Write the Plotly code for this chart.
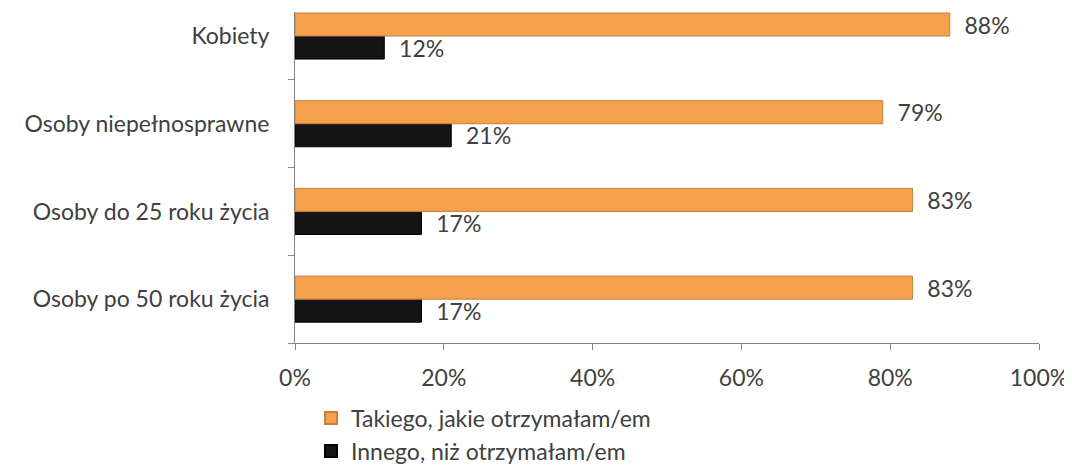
import plotly.graph_objects as go

categories = ["Osoby po 50 roku życia", "Osoby do 25 roku życia", "Osoby niepełnosprawne", "Kobiety"]
takiego = [83, 83, 79, 88]
innego = [17, 17, 21, 12]
series_names = ["Takiego, jakie otrzymałam/em", "Innego, niż otrzymałam/em"]
x_ticks = [0, 20, 40, 60, 80, 100]
x_tick_labels = ["0%", "20%", "40%", "60%", "80%", "100%"]

FONT = "Lato"
FS = 23
TXT = "#404040"

fig = go.Figure()
fig.add_trace(go.Bar(
    y=categories, x=innego, orientation="h", name=series_names[1],
    marker=dict(color="#141414", line=dict(color="#000000", width=1)),
    text=[f"  {v}%" for v in innego], textposition="outside", constraintext="none",
    textfont=dict(family=FONT, size=FS, color=TXT), cliponaxis=False,
    legendrank=2,
))
fig.add_trace(go.Bar(
    y=categories, x=takiego, orientation="h", name=series_names[0],
    marker=dict(color="#F5A04C", line=dict(color="#C9803E", width=1)),
    text=[f"  {v}%" for v in takiego], textposition="outside", constraintext="none",
    textfont=dict(family=FONT, size=FS, color=TXT), cliponaxis=False,
    legendrank=1,
))

fig.update_layout(
    width=1064, height=458,
    margin=dict(l=287, r=33, t=4, b=123, autoexpand=False),
    barmode="group", bargap=0.475, bargroupgap=0,
    plot_bgcolor="white", paper_bgcolor="white",
    font=dict(family=FONT, size=FS, color=TXT),
    showlegend=True,
    legend=dict(x=0.0215, y=-0.162, xanchor="left", yanchor="top",
                font=dict(family=FONT, size=FS, color=TXT),
                tracegroupgap=0, itemsizing="constant"),
    xaxis=dict(range=[0, 100], tickvals=x_ticks, ticktext=x_tick_labels,
               showgrid=False, zeroline=False, showline=True, linecolor="#868686",
               linewidth=1, ticks="outside", ticklen=6, tickcolor="#868686",
               automargin=False, ticklabelstandoff=8,
               tickfont=dict(family=FONT, size=FS, color=TXT)),
    yaxis=dict(type="category", categoryorder="array", categoryarray=categories,
               range=[-0.5, 3.274], showgrid=False, zeroline=False, showline=True,
               linecolor="#868686", linewidth=1, ticks="outside", ticklen=6,
               tickcolor="#868686", tickson="boundaries", automargin=False,
               ticklabelstandoff=20,
               tickfont=dict(family=FONT, size=FS, color=TXT)),
)

fig.write_html("out.html")
